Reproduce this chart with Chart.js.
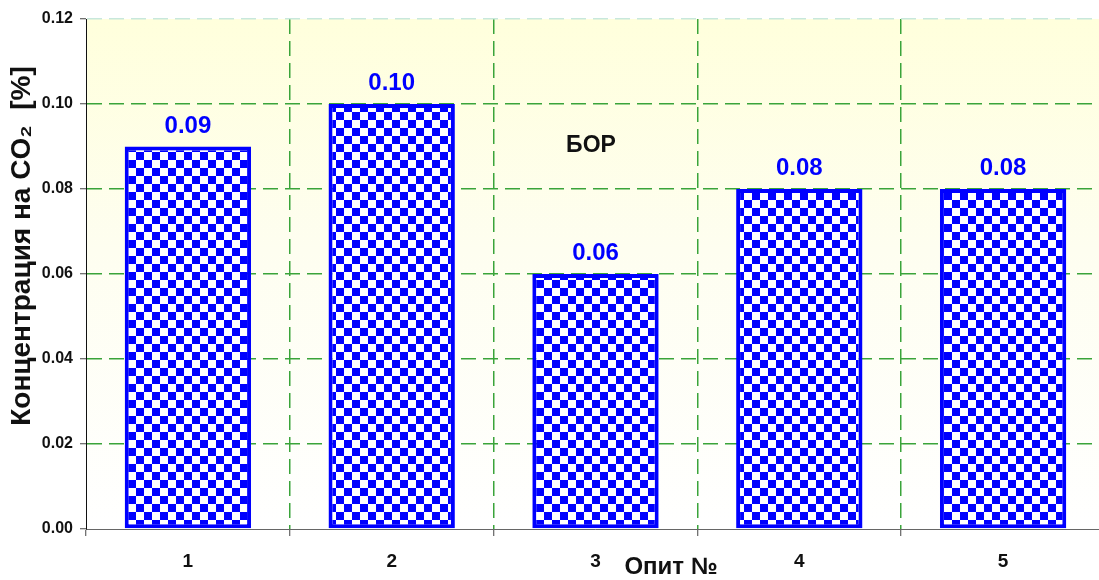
<!DOCTYPE html>
<html>
<head>
<meta charset="utf-8">
<script src="https://cdn.jsdelivr.net/npm/chart.js@4/dist/chart.umd.min.js"></script>
<style>
  html, body { margin: 0; padding: 0; background: #ffffff; overflow: hidden; }
  #wrap { width: 1099px; height: 580px; position: relative; overflow: hidden; }
  #c { display: block; }
</style>
</head>
<body>
<div id="wrap"><canvas id="c" width="1105" height="580"></canvas></div>
<script>
// Experiment numbers and measured CO2 concentrations
const categories = ['1', '2', '3', '4', '5'];
const concentrations = [0.09, 0.10, 0.06, 0.08, 0.08];
const yTicks = [0.00, 0.02, 0.04, 0.06, 0.08, 0.10, 0.12];
const yTitle = 'Концентрация на CO₂  [%]';
const xTitle = 'Опит №';
const panelLabel = 'БОР';

const FONT = '"Liberation Sans", Arial, Helvetica, sans-serif';
const BLUE = '#0000ff';
const GRID = '#3aa43a';

// Blue/white checkerboard fill for the bars
function checkerPattern() {
  const cell = 8;
  const p = document.createElement('canvas');
  p.width = cell * 2; p.height = cell * 2;
  const g = p.getContext('2d');
  g.fillStyle = '#ffffff';
  g.fillRect(0, 0, p.width, p.height);
  g.fillStyle = BLUE;
  g.fillRect(0, 0, cell, cell);
  g.fillRect(cell, cell, cell, cell);
  return g.createPattern(p, 'repeat');
}

const ctx = document.getElementById('c').getContext('2d');

// Pale yellow-to-white plot background
const plotBackground = {
  id: 'plotBackground',
  beforeDraw(chart) {
    const { ctx, chartArea: a } = chart;
    const grad = ctx.createLinearGradient(0, a.top, 0, a.bottom);
    grad.addColorStop(0, '#ffffdc');
    grad.addColorStop(0.45, '#fefef0');
    grad.addColorStop(1, '#ffffff');
    ctx.save();
    ctx.fillStyle = grad;
    ctx.fillRect(a.left, a.top, a.right - a.left, a.bottom - a.top);
    ctx.restore();
  }
};

// Value labels, axis titles and the panel caption
const annotations = {
  id: 'annotations',
  afterDatasetsDraw(chart) {
    const { ctx } = chart;
    const meta = chart.getDatasetMeta(0);
    ctx.save();
    ctx.font = 'bold 24px ' + FONT;
    ctx.fillStyle = BLUE;
    ctx.textAlign = 'center';
    ctx.textBaseline = 'alphabetic';
    meta.data.forEach((bar, i) => {
      ctx.fillText(concentrations[i].toFixed(2), bar.x, bar.y - 14);
    });

    ctx.fillStyle = '#111111';
    ctx.textBaseline = 'middle';
    ctx.font = 'bold 23px ' + FONT;
    ctx.fillText(panelLabel, 591, 146);

    ctx.font = 'bold 24px ' + FONT;
    ctx.fillText(xTitle, 671, 567);

    ctx.font = 'bold 28px ' + FONT;
    ctx.translate(22, 246);
    ctx.rotate(-Math.PI / 2);
    ctx.fillText(yTitle, 0, 0);
    ctx.restore();
  }
};

new Chart(ctx, {
  type: 'bar',
  data: {
    labels: categories,
    datasets: [{
      data: concentrations,
      backgroundColor: checkerPattern(),
      borderColor: BLUE,
      borderWidth: 4,
      borderSkipped: false,
      barPercentage: 0.62,
      categoryPercentage: 1.0
    }]
  },
  options: {
    responsive: false,
    animation: false,
    devicePixelRatio: 1,
    layout: { padding: { top: 19, right: 0, left: 0, bottom: 0 } },
    plugins: {
      legend: { display: false },
      tooltip: { enabled: false },
      title: { display: false }
    },
    scales: {
      x: {
        offset: true,
        grid: {
          offset: true,
          color: (c) => (c.index === 0 || c.index === categories.length) ? 'rgba(0,0,0,0)' : GRID,
          lineWidth: 1.5,
          drawTicks: true,
          tickLength: 7,
          tickWidth: 1,
          tickColor: '#444444',
          tickBorderDash: []
        },
        border: { display: true, color: '#666666', width: 1, dash: [15, 7] },
        ticks: {
          color: '#111111',
          font: { family: FONT, size: 19, weight: 'bold' },
          padding: 14
        },
        afterFit(scale) { scale.height = 51; }
      },
      y: {
        min: 0,
        max: 0.12,
        afterBuildTicks(scale) { scale.ticks = yTicks.map(v => ({ value: v })); },
        grid: {
          color: (c) => {
            if (!c.tick) return GRID;
            if (c.tick.value <= 0) return 'rgba(0,0,0,0)';
            return c.tick.value >= 0.12 ? '#c8e8dc' : GRID;
          },
          lineWidth: 1.5,
          drawTicks: true,
          tickLength: 6,
          tickWidth: 1,
          tickColor: '#444444',
          tickBorderDash: []
        },
        border: { display: true, color: '#111111', width: 1, dash: [15, 7] },
        ticks: {
          color: '#111111',
          font: { family: FONT, size: 16, weight: 'bold' },
          padding: 7,
          callback: (v) => Number(v).toFixed(2)
        },
        afterFit(scale) { scale.width = 86; }
      }
    }
  },
  plugins: [plotBackground, annotations]
});
</script>
</body>
</html>
